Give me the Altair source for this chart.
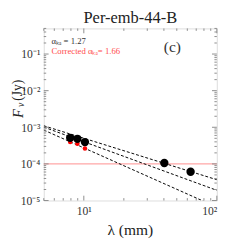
import altair as alt
import pandas as pd

# ---- data ----
lam_obs = [7.9, 8.95, 10.2, 40.3, 63.5]            # mm
flux_obs = [5.15e-4, 4.84e-4, 3.94e-4, 1.06e-4, 6.1e-5]   # Jy
lam_corr = [7.9, 8.95, 10.2]
flux_corr = [3.94e-4, 3.57e-4, 2.62e-4]
fit_lam = [5, 100]
fit_all = [1.1e-3, 3.7e-5]
fit_ka = [1.01e-3, 1.9e-5]
fit_corr = [8.4e-4, 6.6e-6]
limit_flux = [1e-4]

x_major = [10, 100]
x_minor = [5, 6, 7, 8, 9, 20, 30, 40, 50, 60, 70, 80, 90]
y_major = [1e-5, 1e-4, 1e-3, 1e-2, 1e-1]
y_minor = [k * 10.0 ** e for e in range(-5, 0) for k in range(2, 10) if k * 10.0 ** e <= 0.5]

W, H = 179, 178
SERIF = "Liberation Serif"
FRAME = "#8c8c8c"

xs = alt.Scale(type="log", domain=[5, 100], nice=False)
ys = alt.Scale(type="log", domain=[1e-5, 0.5], nice=False)
xaxis = alt.Axis(values=x_major, ticks=False, domain=False, grid=False, title=None,
                 labelExpr="datum.value == 10 ? '10\u00b9' : '10\u00b2'",
                 labelFont=SERIF, labelFontSize=12, labelColor="#333", labelPadding=5)
yaxis = alt.Axis(values=y_major, ticks=False, domain=False, grid=False, title=None,
                 labelExpr="'10' + ['\u207b\u2075','\u207b\u2074','\u207b\u00b3','\u207b\u00b2','\u207b\u00b9'][round(log(datum.value)/LN10)+5]",
                 labelFont=SERIF, labelFontSize=12, labelColor="#333", labelPadding=4)


def X():
    return alt.X("lam:Q", scale=xs, axis=xaxis)


def Y():
    return alt.Y("F:Q", scale=ys, axis=yaxis)


fits = pd.DataFrame({
    "lam": fit_lam * 3,
    "F": fit_all + fit_ka + fit_corr,
    "fit": ["all"] * 2 + ["ka"] * 2 + ["corr"] * 2,
})
obs = pd.DataFrame({"lam": lam_obs, "F": flux_obs})
corr = pd.DataFrame({"lam": lam_corr, "F": flux_corr})
limit = pd.DataFrame({"F": limit_flux})

lines = alt.Chart(fits).mark_line(color="black", strokeWidth=1, strokeDash=[3, 2], clip=True).encode(
    x=X(), y=Y(), detail="fit:N")
hline = alt.Chart(limit).mark_rule(color="#ff8c8c", strokeWidth=1).encode(y=Y())
pts = alt.Chart(obs).mark_circle(color="black", size=75, opacity=1).encode(x=X(), y=Y())
rpts = alt.Chart(corr).mark_circle(color="red", size=22, opacity=1).encode(x=X(), y=Y())

# tick marks (inside, on all four sides)
ym = pd.DataFrame({"F": y_major})
yn = pd.DataFrame({"F": y_minor})
xm = pd.DataFrame({"lam": x_major})
xn = pd.DataFrame({"lam": x_minor})
tk = dict(color=FRAME, strokeWidth=1)
ticks = [
    alt.Chart(ym).mark_rule(**tk).encode(y=Y(), x=alt.value(0), x2=alt.value(5)),
    alt.Chart(ym).mark_rule(**tk).encode(y=Y(), x=alt.value(W - 5), x2=alt.value(W)),
    alt.Chart(yn).mark_rule(**tk).encode(y=Y(), x=alt.value(0), x2=alt.value(2.5)),
    alt.Chart(yn).mark_rule(**tk).encode(y=Y(), x=alt.value(W - 2.5), x2=alt.value(W)),
    alt.Chart(xm).mark_rule(**tk).encode(x=X(), y=alt.value(H), y2=alt.value(H - 5)),
    alt.Chart(xm).mark_rule(**tk).encode(x=X(), y=alt.value(0), y2=alt.value(5)),
    alt.Chart(xn).mark_rule(**tk).encode(x=X(), y=alt.value(H), y2=alt.value(H - 2.5)),
    alt.Chart(xn).mark_rule(**tk).encode(x=X(), y=alt.value(0), y2=alt.value(2.5)),
]

one = pd.DataFrame({"a": [0]})


def txt(s, x, y, size, color="black", **kw):
    return alt.Chart(one).mark_text(text=s, font=SERIF, fontSize=size, color=color, **kw).encode(
        x=alt.value(x), y=alt.value(y))


texts = [
    txt("Per-emb-44-B", W / 2, -2, 17, color="#222", baseline="bottom"),
    txt("\u03b1\u2096\u2090 = 1.27", 8, 13, 9, color="#333", align="left", baseline="middle"),
    txt("Corrected \u03b1\u2096\u2090= 1.66", 8, 23, 9, color="#ff4d4d", align="left", baseline="middle"),
    txt("(c)", 133, 19, 16, color="#333", baseline="middle"),
    txt("\u03bb (mm)", W / 2, 209, 16, color="#222", baseline="middle"),
    txt("F", -27, 88, 15, color="#222", baseline="middle", angle=270, fontStyle="italic"),
    txt("\u03bd", -23, 79, 10, color="#222", baseline="middle", angle=270, fontStyle="italic"),
    txt("(Jy)", -27, 64, 14, color="#222", baseline="middle", angle=270),
]

chart = alt.layer(hline, lines, rpts, pts, *ticks, *texts).properties(
    width=W, height=H,
    autosize=alt.AutoSizeParams(type="none"),
    padding={"left": 37, "top": 17, "right": 25, "bottom": 46},
).configure_view(stroke=FRAME, strokeWidth=1).configure(background="white")

chart.save("out.html", embed_options={"renderer": "svg", "actions": False})
